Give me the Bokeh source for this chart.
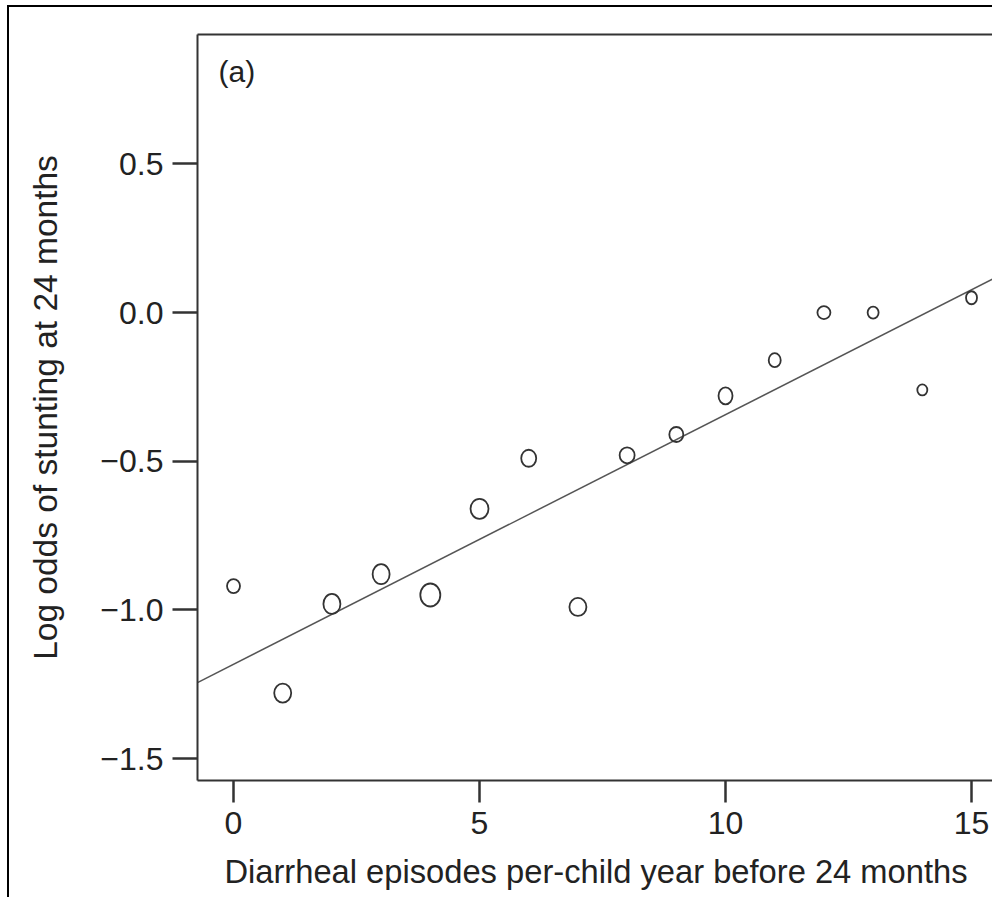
from bokeh.plotting import figure
from bokeh.models import Range1d, LinearAxis, FixedTicker, Label, ColumnDataSource
from bokeh.embed import file_html
from bokeh.resources import INLINE

# ---------------- data ----------------
episodes = [0, 1, 2, 3, 4, 5, 6, 7, 8, 9, 10, 11, 12, 13, 14, 15]
log_odds = [-0.92, -1.28, -0.98, -0.88, -0.95, -0.66, -0.49, -0.99,
            -0.48, -0.41, -0.28, -0.16, 0.0, 0.0, -0.26, 0.05]
fit_intercept = -1.183
fit_slope = 0.084

x_ticks = [0, 5, 10, 15]
x_tick_labels = ["0", "5", "10", "15"]
y_ticks = [-1.5, -1.0, -0.5, 0.0, 0.5]
y_tick_labels = ["\u22121.5", "\u22121.0", "\u22120.5", "0.0", "0.5"]

x_title = "Diarrheal episodes per-child year before 24 months"
y_title = "Log odds of stunting at 24 months"
panel_label = "(a)"

# ---------------- styling ----------------
FONT = "Liberation Sans"
TXT = "#222222"
INK = "#333333"
marker_w = [13, 17, 17, 17, 20, 18, 15, 17, 15, 14, 14, 12, 13, 11, 10, 11]
marker_h = [14, 19, 20, 20, 23, 20, 17, 18, 16, 15, 17, 14, 13, 12, 11, 13]

x_range = Range1d(-0.732, 15.467)
y_range = Range1d(-1.574, 0.9356)

p = figure(width=985, height=892, x_range=x_range, y_range=y_range,
           output_backend="svg", toolbar_location=None,
           min_border_left=188, min_border_right=0,
           min_border_top=27, min_border_bottom=119)
p.styles = {"border-left": "2px solid #000", "border-top": "2px solid #000",
            "margin-left": "7px", "margin-top": "5px"}
p.outline_line_color = None
p.xgrid.visible = False
p.ygrid.visible = False
p.background_fill_color = "white"
p.border_fill_color = "white"

# fit line across the full x range
xs_fit = [x_range.start, x_range.end]
ys_fit = [fit_intercept + fit_slope * v for v in xs_fit]
p.line(xs_fit, ys_fit, line_color="#555555", line_width=1.5)

src = ColumnDataSource(dict(x=episodes, y=log_odds, w=marker_w, h=marker_h))
p.ellipse(x="x", y="y", width="w", height="h", width_units="screen",
          height_units="screen", source=src, fill_color=None,
          line_color=INK, line_width=1.8)

# axes
xa = p.xaxis[0]
xa.ticker = FixedTicker(ticks=x_ticks)
xa.major_label_overrides = {t: l for t, l in zip(x_ticks, x_tick_labels)}
xa.axis_label = x_title
ya = p.yaxis[0]
ya.ticker = FixedTicker(ticks=y_ticks)
ya.major_label_overrides = {t: l for t, l in zip(y_ticks, y_tick_labels)}
ya.axis_label = y_title

for ax in (xa, ya):
    ax.minor_tick_line_color = None
    ax.major_tick_in = 0
    ax.axis_line_color = INK
    ax.axis_line_width = 2
    ax.major_tick_line_color = INK
    ax.major_tick_line_width = 2.5
    ax.major_label_text_font = FONT
    ax.major_label_text_font_size = "32px"
    ax.major_label_text_color = TXT
    ax.axis_label_text_font = FONT
    ax.axis_label_text_font_style = "normal"
    ax.axis_label_text_color = TXT

xa.axis_label_text_font_size = "32.7px"
ya.axis_label_text_font_size = "33.5px"
xa.major_tick_out = 22
xa.major_label_standoff = 9
xa.axis_label_standoff = 16
ya.major_tick_out = 25
ya.major_label_standoff = 9
ya.axis_label_standoff = 33

top = LinearAxis(ticker=FixedTicker(ticks=[]), major_label_text_font_size="0px",
                 major_tick_line_color=None, minor_tick_line_color=None,
                 axis_line_color=INK, axis_line_width=2, major_label_standoff=0)
p.add_layout(top, "above")

p.add_layout(Label(x=-0.305, y=0.865, text=panel_label, text_baseline="top",
                   text_align="left", text_font=FONT, text_font_size="30px",
                   text_color=TXT))

open("out.html", "w").write(file_html(p, INLINE))
